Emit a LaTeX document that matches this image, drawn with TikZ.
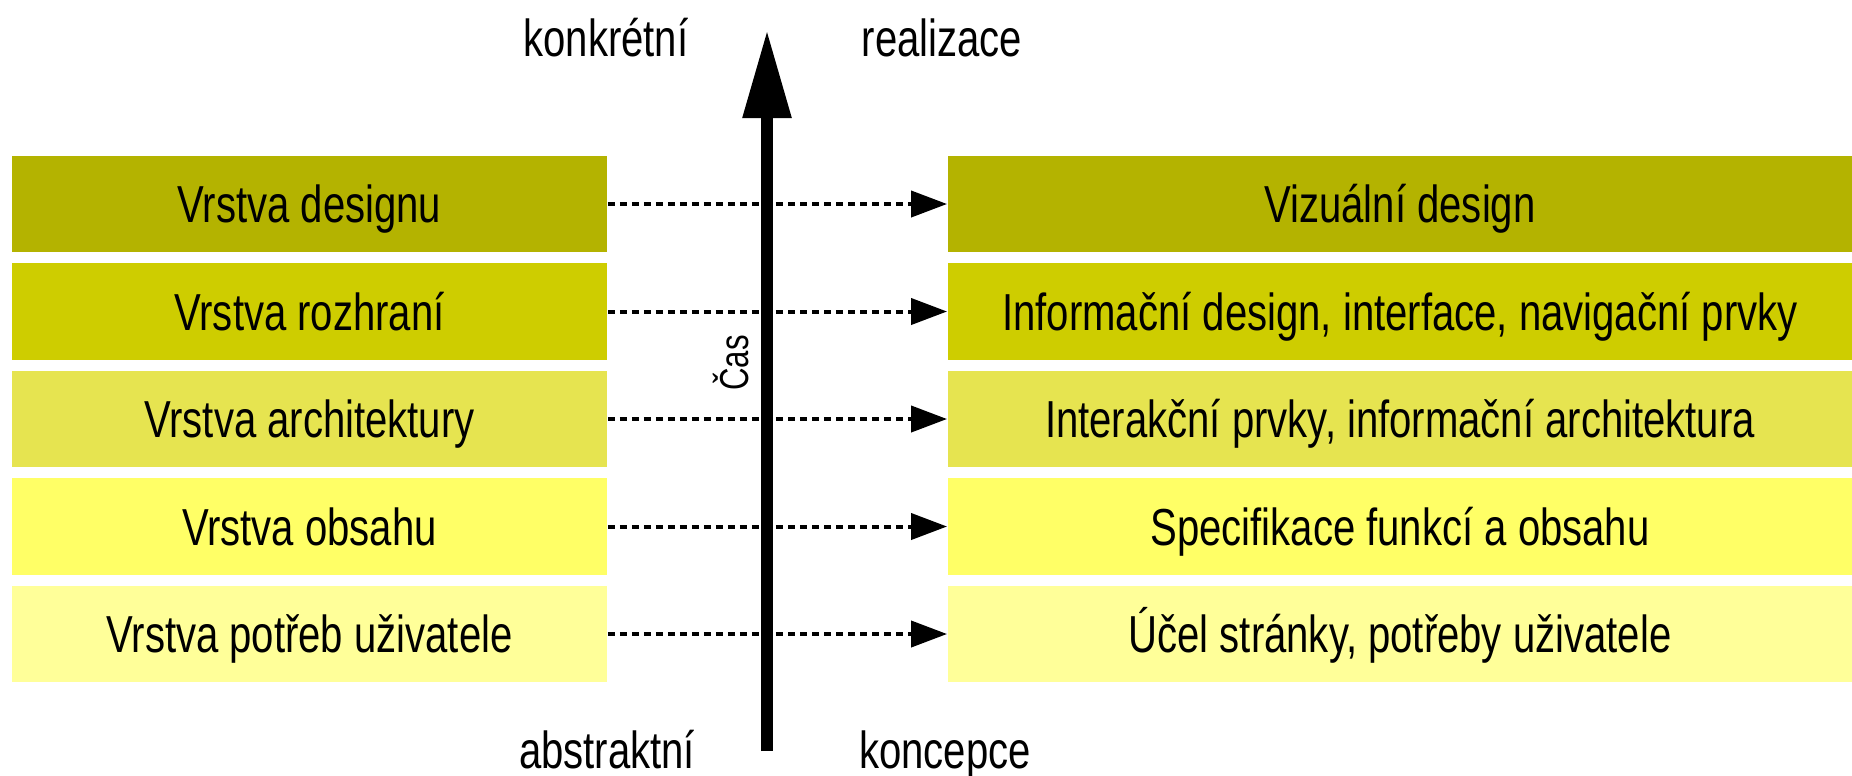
\documentclass[tikz,border=0pt]{standalone}
\usepackage{fontspec}
\setmainfont{Liberation Sans}[FakeStretch=0.77]
\usetikzlibrary{arrows.meta, positioning}
\definecolor{vrstvaA}{RGB}{180,179,0}
\definecolor{vrstvaB}{RGB}{206,205,0}
\definecolor{vrstvaC}{RGB}{230,228,80}
\definecolor{vrstvaD}{RGB}{255,255,102}
\definecolor{vrstvaE}{RGB}{255,255,153}

\begin{document}
\begin{tikzpicture}[x=0.01cm, y=-0.01cm,
  vrstva/.style={minimum height=0.96cm, text height=0.37cm, text depth=0cm, inner sep=0pt, font=\fontsize{14.8}{16}\selectfont},
  leva/.style={vrstva, minimum width=5.95cm},
  prava/.style={vrstva, minimum width=9.04cm},
  tecky/.style={line width=0.04cm, dash pattern=on 0.07cm off 0.05cm, -{Triangle[length=0.36cm,width=0.26cm]}},
  popis/.style={text height=0.37cm, text depth=0cm, inner sep=0pt, font=\fontsize{14.8}{16}\selectfont}]
  \def \xl{309.5}
  \def \xr{1400}
  \def \ya{204}
  \def \yb{311.5}
  \def \yc{419}
  \def \yd{526.5}
  \def \ye{634}
  \useasboundingbox (0,0) rectangle (1852,775);

  \node[leva, fill=vrstvaA] (L1) at (\xl,\ya) {Vrstva designu};
  \node[leva, fill=vrstvaB] (L2) at (\xl,\yb) {Vrstva rozhraní};
  \node[leva, fill=vrstvaC] (L3) at (\xl,\yc) {Vrstva architektury};
  \node[leva, fill=vrstvaD] (L4) at (\xl,\yd) {Vrstva obsahu};
  \node[leva, fill=vrstvaE] (L5) at (\xl,\ye) {Vrstva potřeb uživatele};

  \node[prava, fill=vrstvaA] (R1) at (\xr,\ya) {Vizuální design};
  \node[prava, fill=vrstvaB] (R2) at (\xr,\yb) {Informační design, interface, navigační prvky};
  \node[prava, fill=vrstvaC] (R3) at (\xr,\yc) {Interakční prvky, informační architektura};
  \node[prava, fill=vrstvaD] (R4) at (\xr,\yd) {Specifikace funkcí a obsahu};
  \node[prava, fill=vrstvaE] (R5) at (\xr,\ye) {Účel stránky, potřeby uživatele};

  % osa casu
  \coordinate (dole) at (767,751);
  \coordinate (nahore) at (767,30);
  \draw[line width=0.12cm, -{Triangle[length=0.88cm,width=0.46cm]}] (dole) -- (nahore);
  \node[popis, rotate=90, font=\fontsize{11.5}{13}\selectfont, text height=0.29cm] (cas) at (734,363) {Čas};

  \node[popis] (konkretni) at (606,38) {konkrétní};
  \node[popis] (realizace) at (942,38) {realizace};
  \node[popis] (abstraktni) at (607,750) {abstraktní};
  \node[popis] (koncepce) at (945,750) {koncepce};

  \draw[tecky] (L1) -- (R1);
  \draw[tecky] (L2) -- (R2);
  \draw[tecky] (L3) -- (R3);
  \draw[tecky] (L4) -- (R4);
  \draw[tecky] (L5) -- (R5);
\end{tikzpicture}
\end{document}
